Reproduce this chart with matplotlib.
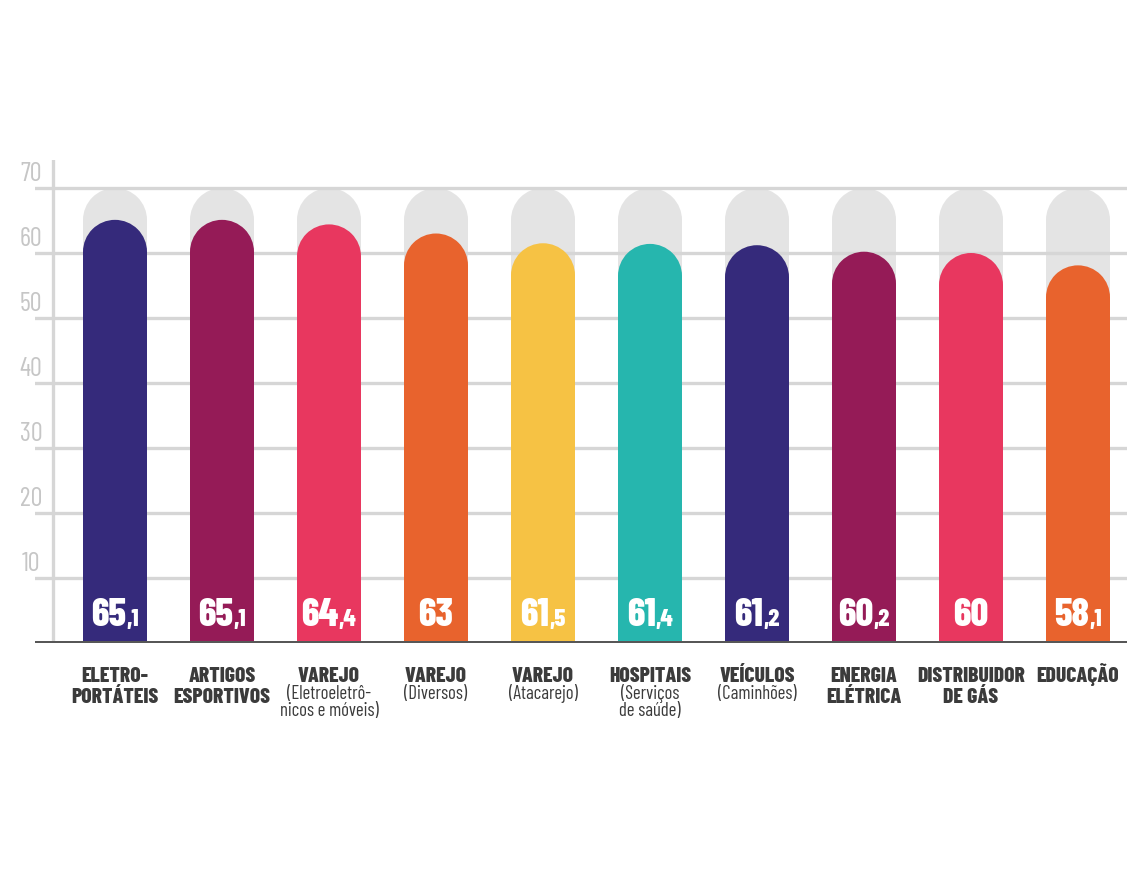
import matplotlib
matplotlib.use("Agg")
import matplotlib.pyplot as plt
from matplotlib.patches import Rectangle, Ellipse
from matplotlib.offsetbox import TextArea, HPacker, AnnotationBbox

# data
categories = [["ELETRO-", "PORTÁTEIS"], ["ARTIGOS", "ESPORTIVOS"], ["VAREJO"], ["VAREJO"],
              ["VAREJO"], ["HOSPITAIS"], ["VEÍCULOS"], ["ENERGIA", "ELÉTRICA"],
              ["DISTRIBUIDOR", "DE GÁS"], ["EDUCAÇÃO"]]
subtitles = [[], [], ["(Eletroeletrô-", "nicos e móveis)"], ["(Diversos)"], ["(Atacarejo)"],
             ["(Serviços", "de saúde)"], ["(Caminhões)"], [], [], []]
values = [65.1, 65.1, 64.4, 63.0, 61.5, 61.4, 61.2, 60.2, 60.0, 58.1]
max_value = 70
yticks = [10, 20, 30, 40, 50, 60, 70]
colors = ["#352a7b", "#951b57", "#e8375f", "#e8632d", "#f6c244",
          "#26b6ae", "#352a7b", "#951b57", "#e8375f", "#e8632d"]

COND = ["Barlow Condensed", "DejaVu Sans"]

fig = plt.figure(figsize=(11.46, 8.77), dpi=100)
W, H = 1146, 877
# axes: x from px 35 to 1127, y from px 643 (value 0) up to px 160
ax = fig.add_axes([35 / W, (H - 643) / H, (1127 - 35) / W, (643 - 160) / H])
px_per_x = 107.0
px_per_y = 6.5
ax.set_xlim(-80 / px_per_x, (1127 - 115) / px_per_x)
ax.set_ylim(0, (643 - 160) / px_per_y)
ax.axis("off")

bar_w = 64 / px_per_x
ry = 32 / px_per_y


def rounded_bar(x, top, color, z):
    ax.add_patch(Rectangle((x - bar_w / 2, 0), bar_w, top - ry, color=color, lw=0, zorder=z))
    ax.add_patch(Ellipse((x, top - ry), bar_w, 2 * ry, color=color, lw=0, zorder=z))


def below(px):
    # pixel distance under the baseline -> data y
    return -px / px_per_y


# grid and axis lines
for t in yticks:
    ax.axhline(t, color="#d6d6d6", lw=2.4, zorder=2)
    ax.text(-84 / px_per_x, t + 2.1, str(t), ha="center", va="center",
            fontsize=19, color="#c6c6c6", family=COND, clip_on=False)
ax.axvline(-62 / px_per_x, color="#d6d6d6", lw=2.4, zorder=2)
ax.axhline(0, color="#575757", lw=3.6, zorder=5)

for i, (v, c) in enumerate(zip(values, colors)):
    rounded_bar(i, max_value, "#e4e4e4", 1)
    rounded_bar(i, v, c, 3)

    whole, _, dec = f"{v:.1f}".partition(".")
    parts = [TextArea(whole, textprops=dict(fontsize=28, color="white",
                                            weight=800, family=COND))]
    if dec != "0":
        parts.append(TextArea("," + dec, textprops=dict(fontsize=17.5, color="white",
                                                        weight=800, family=COND)))
    box = HPacker(children=parts, align="baseline", pad=0, sep=0)
    ab = AnnotationBbox(box, (i, 1.6), frameon=False, box_alignment=(0.5, 0),
                        pad=0, zorder=6)
    ax.add_artist(ab)

    # category name, one text per line
    y_px = 39
    for line in categories[i]:
        ax.text(i, below(y_px), line, ha="center", va="baseline", fontsize=15.5,
                weight=800, color="#3b3b3b", family=COND, clip_on=False)
        y_px += 21
    y_px -= 4
    for line in subtitles[i]:
        ax.text(i, below(y_px), line, ha="center", va="baseline", fontsize=13.5,
                color="#3b3b3b", family=COND, clip_on=False)
        y_px += 16.5

fig.savefig("out.png", dpi=100)
